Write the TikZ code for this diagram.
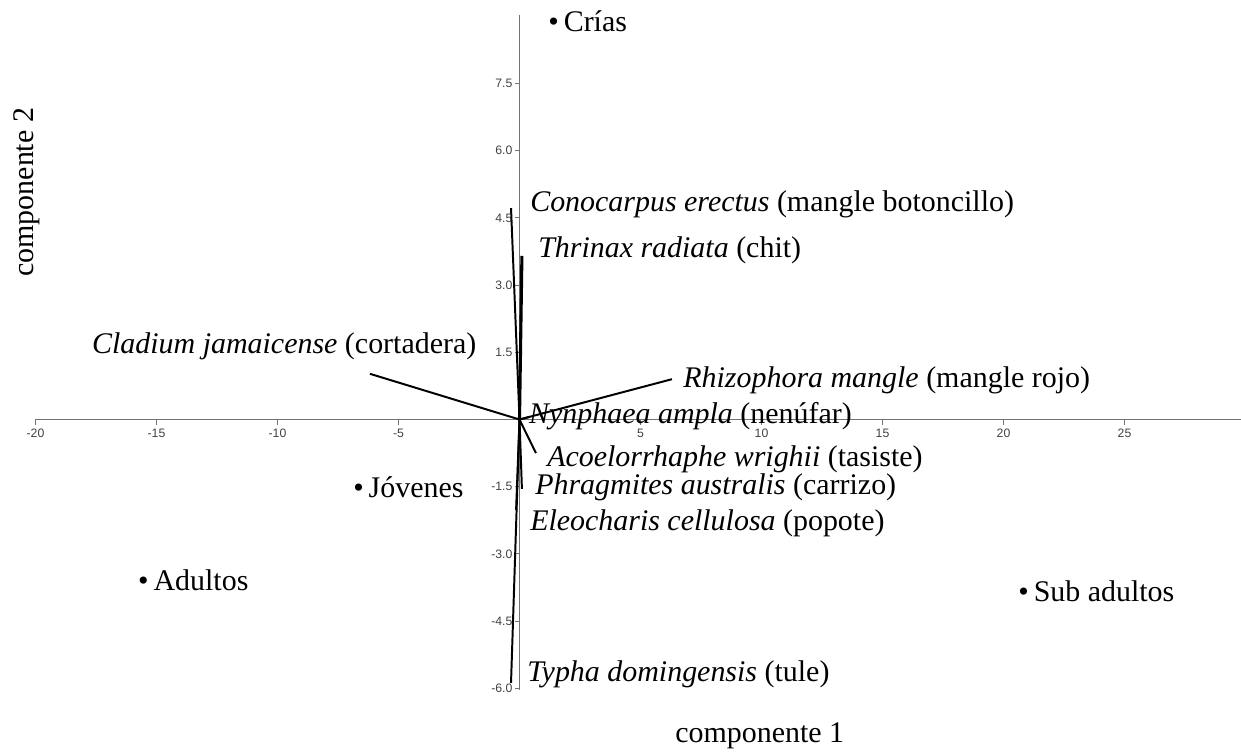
\documentclass[tikz,border=0pt]{standalone}
\usepackage{fontspec}
\setmainfont{Liberation Serif}
\newfontfamily\tickfont{Liberation Sans}
\usetikzlibrary{positioning}

\begin{document}
\begin{tikzpicture}[x=0.605cm, y=1.12cm,
    axisline/.style={draw=black!55, line width=0.8pt},
    ticklabel/.style={font=\tickfont\fontsize{8.7}{10}\selectfont, text=black!75, inner sep=0pt},
    loading/.style={line width=1.4pt},
    plabel/.style={anchor=base west, inner sep=0pt, font=\fontsize{21.3}{25}\selectfont}]
  \useasboundingbox (-21.467,-7.400) rectangle (29.814,9.364);

  %% Axes and ticks
  \draw[axisline] (-20,0) -- (29.814,0);
  \draw[axisline] (0,9.03) -- (0,-6.04);
  \foreach \x [count=\i] in {-20,-15,-10,-5,5,10,15,20,25} {
    \draw[axisline] (\x,0) -- (\x,-0.12);
    \node[ticklabel] (xt\i) at (\x,-0.30) {\x};
  }
  \foreach \y/\t [count=\i] in {7.5/7.5,6/6.0,4.5/4.5,3/3.0,1.5/1.5,-1.5/-1.5,-3/-3.0,-4.5/-4.5,-6/-6.0} {
    \draw[axisline] (0,\y) -- (-0.2,\y);
    \node[ticklabel, anchor=east] (yt\i) at (-0.28,\y) {\t};
  }

  %% Loadings from the origin
  \coordinate (o) at (0,0);
  \coordinate (conocarpus) at (-0.35,4.72);
  \coordinate (thrinax) at (0.10,3.65);
  \coordinate (cladium) at (-6.18,1.02);
  \coordinate (rhizophora) at (6.30,0.90);
  \coordinate (nynphaea) at (0.43,0.06);
  \coordinate (acoelorrhaphe) at (0.68,-0.75);
  \coordinate (phragmites) at (0.10,-1.55);
  \coordinate (eleocharis) at (-0.14,-2.02);
  \coordinate (typha) at (-0.35,-5.88);
  \foreach \v in {conocarpus,cladium,rhizophora,nynphaea,acoelorrhaphe,phragmites,eleocharis,typha}
    \draw[loading] (o) -- (\v);
  \draw[loading, line width=2.2pt] (o) -- (thrinax);

  %% Species labels
  \node[plabel] (lconocarpus) at (0.434,4.632) {\textit{Conocarpus erectus} (mangle botoncillo)};
  \node[plabel] (lthrinax) at (0.764,3.627) {\textit{Thrinax radiata} (chit)};
  \node[plabel] (lcladium) at (-17.67,1.484) {\textit{Cladium jamaicense} (cortadera)};
  \node[plabel] (lrhizophora) at (6.76,0.725) {\textit{Rhizophora mangle} (mangle rojo)};
  \node[plabel] (lnynphaea) at (0.39,-0.078) {\textit{Nynphaea ampla} (nenúfar)};
  \node[plabel] (lacoelorrhaphe) at (1.136,-1.06) {\textit{Acoelorrhaphe wrighii} (tasiste)};
  \node[plabel] (lphragmites) at (0.64,-1.685) {\textit{Phragmites australis} (carrizo)};
  \node[plabel] (leleocharis) at (0.434,-2.467) {\textit{Eleocharis cellulosa} (popote)};
  \node[plabel] (ltypha) at (0.31,-5.859) {\textit{Typha domingensis} (tule)};

  %% Age classes
  \node[plabel] (crias) at (1.18,8.65) {•\,Crías};
  \node[plabel] (jovenes) at (-6.88,-1.752) {•\,Jóvenes};
  \node[plabel] (adultos) at (-15.77,-3.806) {•\,Adultos};
  \node[plabel] (subadultos) at (20.6,-4.07) {•\,Sub adultos};

  %% Axis titles
  \node[plabel] (comp1) at (6.43,-7.22) {componente 1};
  \node[plabel, rotate=90] (comp2) at (-20.10,3.18) {componente 2};
\end{tikzpicture}
\end{document}
